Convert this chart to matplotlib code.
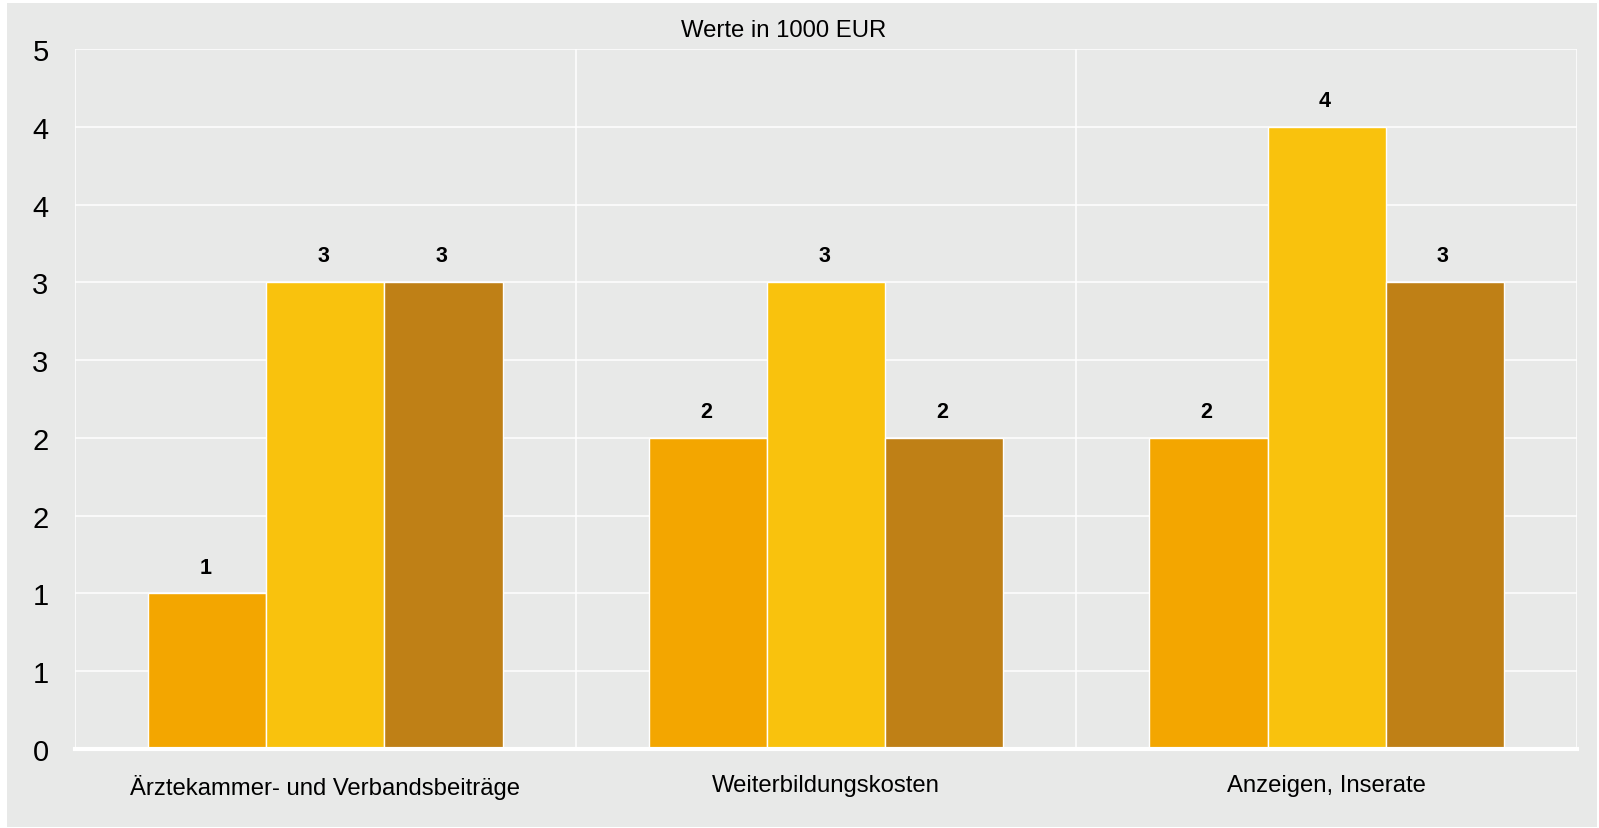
import math
import matplotlib
matplotlib.use("Agg")
import matplotlib.pyplot as plt
from matplotlib.patches import Rectangle
from matplotlib.ticker import FuncFormatter, MultipleLocator

# Data (values in 1000 EUR)
categories = ["Ärztekammer- und Verbandsbeiträge", "Weiterbildungskosten", "Anzeigen, Inserate"]
series_a = [1.0, 2.0, 2.0]
series_b = [3.0, 3.0, 4.0]
series_c = [3.0, 2.0, 3.0]
series_colors = ["#F3A600", "#F9C20D", "#BF8016"]

plt.rcParams["font.family"] = ["Liberation Sans", "DejaVu Sans"]

W, H = 1599, 829
fig = plt.figure(figsize=(W / 100, H / 100), dpi=100)
fig.patch.set_facecolor("white")
fig.add_artist(Rectangle((7 / W, 1 / H), 1590 / W, 824 / H,
                         transform=fig.transFigure, facecolor="#E8E9E8",
                         edgecolor="none", zorder=-10))

ax = fig.add_axes([75 / W, 1 - 750 / H, 1502 / W, 700 / H])
ax.set_facecolor("#E8E9E8")

x = list(range(len(categories)))
width = 0.236
for i, (vals, col) in enumerate(zip([series_a, series_b, series_c], series_colors)):
    pos = [xi + (i - 1) * width for xi in x]
    bars = ax.bar(pos, vals, width=width, color=col, edgecolor="white", linewidth=1, zorder=3)
    for b, v in zip(bars, vals):
        ax.annotate(f"{v:.0f}", (b.get_x() + b.get_width() / 2 - 0.004, v),
                    xytext=(0, 19), textcoords="offset points",
                    ha="center", va="center", fontsize=15.5, fontweight="bold", color="black")

ax.set_xlim(-0.5, len(categories) - 0.5)
ax.set_ylim(0, 4.5)
ax.yaxis.set_major_locator(MultipleLocator(0.5))
ax.yaxis.set_major_formatter(FuncFormatter(lambda v, p: str(int(math.floor(v + 0.5 + 1e-9)))))
ax.set_xticks(x)
ax.set_xticklabels(categories, fontsize=17.2)
ax.set_xticks([-0.5, 0.5, 1.5, 2.5], minor=True)
ax.tick_params(axis="x", which="both", length=0, pad=18)
ax.tick_params(axis="y", length=0, pad=19, labelsize=21)

ax.grid(axis="y", color="white", linewidth=1.1, zorder=1)
ax.grid(axis="x", which="minor", color="white", linewidth=1.1, zorder=1)
ax.grid(axis="x", which="major", visible=False)

for s in ["top", "right", "left"]:
    ax.spines[s].set_visible(False)
ax.spines["bottom"].set_color("white")
ax.spines["bottom"].set_linewidth(3)
ax.spines["bottom"].set_zorder(4)

fig.text(784 / W, 1 - 31 / H, "Werte in 1000 EUR", ha="center", va="center", fontsize=17.2)

fig.savefig("out.png", dpi=100, facecolor=fig.get_facecolor())
